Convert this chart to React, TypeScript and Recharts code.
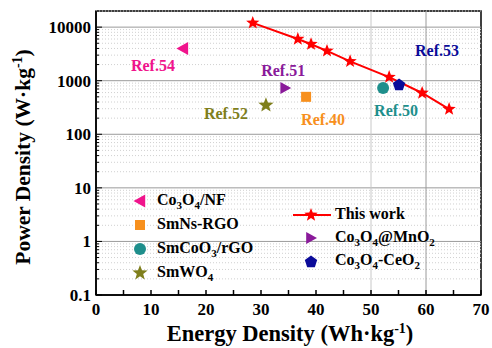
import React from "react";
import { ScatterChart, Scatter, XAxis, YAxis, ReferenceLine, ReferenceArea } from "recharts";

// "This work" curve
const thisWorkEnergy = [28.5, 36.7, 39.1, 42, 46.2, 53.3, 59.3, 64.2];
const thisWorkPower = [12000, 6000, 4800, 3600, 2300, 1170, 590, 295];

// literature points
const refNames = ["Co3O4/NF", "SmNs-RGO", "SmCoO3/rGO", "SmWO4", "Co3O4@MnO2", "Co3O4-CeO2"];
const refLabels = ["Ref.54", "Ref.40", "Ref.50", "Ref.52", "Ref.51", "Ref.53"];
const refEnergy = [15.8, 38.2, 52.2, 30.9, 34.4, 55.1];
const refPower = [4000, 500, 730, 350, 730, 870];
const refShapes = ["left", "square", "circle", "star", "right", "pentagon"];
const refColors = ["#f0148c", "#f7901e", "#1f8f8c", "#7f7f1c", "#8a1a9a", "#0b0b99"];
// label offset from marker (px)
const refLabelDx = [-30, 17, 13, -40, -2, 38];
const refLabelDy = [18, 23, 23, 9, -17, -33];

const xTicks = [0, 5, 10, 15, 20, 25, 30, 35, 40, 45, 50, 55, 60, 65, 70];
const yMajor = [0.1, 1, 10, 100, 1000, 10000];
const yMinor = yMajor.slice(0, 5).flatMap((d) => [2, 3, 4, 5, 6, 7, 8, 9].map((m) => +(d * m).toPrecision(3)))
  .concat([20000]);
const yTicks = [...yMajor, ...yMinor.filter((v) => v < 20000)];

const FONT = "'Liberation Serif', 'Times New Roman', serif";

function Marker({ kind, cx, cy, s, color }: { kind: string; cx: number; cy: number; s: number; color: string }) {
  if (kind === "left")
    return <polygon points={`${cx - s},${cy} ${cx + s * 0.8},${cy - s} ${cx + s * 0.8},${cy + s}`} fill={color} />;
  if (kind === "right")
    return <polygon points={`${cx + s},${cy} ${cx - s * 0.8},${cy - s} ${cx - s * 0.8},${cy + s}`} fill={color} />;
  if (kind === "square") return <rect x={cx - s} y={cy - s} width={s * 2} height={s * 2} fill={color} />;
  if (kind === "circle") return <circle cx={cx} cy={cy} r={s} fill={color} />;
  if (kind === "pentagon") {
    const pts = [0, 1, 2, 3, 4].map((i) => {
      const a = -Math.PI / 2 + (i * 2 * Math.PI) / 5;
      return `${cx + s * Math.cos(a)},${cy + s * Math.sin(a) + 1}`;
    });
    return <polygon points={pts.join(" ")} fill={color} />;
  }
  // star
  const pts: string[] = [];
  for (let i = 0; i < 10; i++) {
    const r = i % 2 === 0 ? s : s * 0.42;
    const a = -Math.PI / 2 + (i * Math.PI) / 5;
    pts.push(`${cx + r * Math.cos(a)},${cy + r * Math.sin(a)}`);
  }
  return <polygon points={pts.join(" ")} fill={color} />;
}

const refSizes = [6.5, 5, 6, 8, 6, 6.5];

function YTick(props: any) {
  const { x, y, payload } = props;
  const major = yMajor.includes(payload.value);
  return (
    <g>
      <line x1={x} x2={x + (major ? 6 : 3)} y1={y} y2={y} stroke="#000" strokeWidth={1} />
      {major && (
        <text x={x - 5} y={y} dy={6} textAnchor="end" fontFamily={FONT} fontWeight="bold" fontSize={17} fill="#000">
          {payload.value}
        </text>
      )}
    </g>
  );
}

function XTick(props: any) {
  const { x, y, payload } = props;
  const major = payload.value % 10 === 0;
  return (
    <g>
      <line x1={x} x2={x} y1={y} y2={y - 5} stroke="#000" strokeWidth={1.5} />
      {major && (
        <text x={x} y={y + 20} textAnchor="middle" fontFamily={FONT} fontWeight="bold" fontSize={17} fill="#000">
          {payload.value}
        </text>
      )}
    </g>
  );
}

function Chem({ name }: { name: string }) {
  const parts = name.split(/(\d)/);
  return (
    <>
      {parts.map((p, i) =>
        /\d/.test(p) ? (
          <span key={i} style={{ fontSize: 11, position: "relative", top: 4 }}>{p}</span>
        ) : (
          <span key={i}>{p}</span>
        )
      )}
    </>
  );
}

const legendLeft = [0, 1, 2, 3];
const legendLeftY = [201, 225, 249, 273];
const legendRight = [4, 5];
const legendRightY = [238, 261];

const supStyle: React.CSSProperties = { fontSize: 14, position: "relative", top: -8 };

export default function App() {
  const thisWork = thisWorkEnergy.map((x, i) => ({ x, y: thisWorkPower[i] }));

  const textStyle: React.CSSProperties = {
    position: "absolute",
    fontFamily: FONT,
    fontWeight: "bold",
    fontSize: 16,
    color: "#000",
    whiteSpace: "nowrap",
    lineHeight: "18px",
  };

  return (
    <div style={{ position: "absolute", left: 0, top: 0, width: 492, height: 348, background: "#fff" }}>
      <ScatterChart width={492} height={348} margin={{ top: 11, right: 11, bottom: 0, left: 0 }}>
        <XAxis
          type="number"
          dataKey="x"
          domain={[0, 70]}
          ticks={xTicks}
          interval={0}
          tickSize={0}
          tickMargin={0}
          height={53}
          axisLine={{ stroke: "#000", strokeWidth: 1.5 }}
          tickLine={false}
          tick={(p: any) => <XTick {...p} />}
        />
        <YAxis
          type="number"
          dataKey="y"
          scale="log"
          domain={[0.1, 20000]}
          ticks={yTicks}
          interval={0}
          allowDataOverflow
          tickSize={0}
          tickMargin={0}
          width={96}
          axisLine={{ stroke: "#000", strokeWidth: 1.5 }}
          tickLine={false}
          tick={(p: any) => <YTick {...p} />}
        />
        {yMinor.map((v) => (
          <ReferenceLine key={"m" + v} y={v} stroke="#d0d0d0" strokeDasharray="1 2" strokeWidth={1} />
        ))}
        {yMajor.slice(1).map((v) => (
          <ReferenceLine key={"M" + v} y={v} stroke="#9a9a9a" strokeWidth={1} />
        ))}
        <ReferenceLine x={50} stroke="#c8c8c8" strokeWidth={1} />
        <ReferenceLine x={60} stroke="#9a9a9a" strokeWidth={1} />
        <ReferenceArea x1={0} x2={70} y1={0.1} y2={20000} fill="none" stroke="#000" strokeWidth={1.5} />
        <Scatter
          data={thisWork}
          isAnimationActive={false}
          line={{ stroke: "#ff0000", strokeWidth: 2 }}
          shape={(p: any) => <Marker kind="star" cx={p.cx} cy={p.cy} s={7} color="#ff0000" />}
        />
        {refNames.map((n, i) => (
          <Scatter
            key={n}
            name={n}
            data={[{ x: refEnergy[i], y: refPower[i] }]}
            isAnimationActive={false}
            shape={(p: any) => (
              <g>
                <Marker kind={refShapes[i]} cx={p.cx} cy={p.cy} s={refSizes[i]} color={refColors[i]} />
                <text
                  x={p.cx + refLabelDx[i]}
                  y={p.cy + refLabelDy[i]}
                  dy={5}
                  textAnchor="middle"
                  fontFamily={FONT}
                  fontWeight="bold"
                  fontSize={16}
                  fill={refColors[i]}
                >
                  {refLabels[i]}
                </text>
              </g>
            )}
          />
        ))}
      </ScatterChart>

      {/* left legend */}
      {legendLeft.map((idx, r) => (
        <React.Fragment key={idx}>
          <svg style={{ position: "absolute", left: 130, top: legendLeftY[r] - 10 }} width={20} height={20}>
            <Marker kind={refShapes[idx]} cx={10} cy={10} s={refSizes[idx]} color={refColors[idx]} />
          </svg>
          <div style={{ ...textStyle, left: 157, top: legendLeftY[r] - 10 }}>
            <Chem name={refNames[idx]} />
          </div>
        </React.Fragment>
      ))}

      {/* right legend */}
      <svg style={{ position: "absolute", left: 290, top: 205 }} width={44} height={20}>
        <line x1={3} x2={41} y1={10} y2={10} stroke="#ff0000" strokeWidth={2} />
        <Marker kind="star" cx={21} cy={10} s={7} color="#ff0000" />
      </svg>
      <div style={{ ...textStyle, left: 335, top: 205 }}>This work</div>
      {legendRight.map((idx, r) => (
        <React.Fragment key={idx}>
          <svg style={{ position: "absolute", left: 301, top: legendRightY[r] - 10 }} width={20} height={20}>
            <Marker kind={refShapes[idx]} cx={10} cy={10} s={refSizes[idx]} color={refColors[idx]} />
          </svg>
          <div style={{ ...textStyle, left: 335, top: legendRightY[r] - 10 }}>
            <Chem name={refNames[idx]} />
          </div>
        </React.Fragment>
      ))}

      {/* axis titles */}
      <div style={{ ...textStyle, fontSize: 22.5, lineHeight: "24px", left: 290, top: 322, transform: "translateX(-50%)" }}>
        Energy Density (Wh·kg<span style={supStyle}>-1</span>)
      </div>
      <div
        style={{
          ...textStyle,
          fontSize: 21.5,
          lineHeight: "24px",
          left: 24,
          top: 157,
          transform: "translate(-50%, -50%) rotate(-90deg)",
        }}
      >
        Power Density (W·kg<span style={supStyle}>-1</span>)
      </div>
    </div>
  );
}
